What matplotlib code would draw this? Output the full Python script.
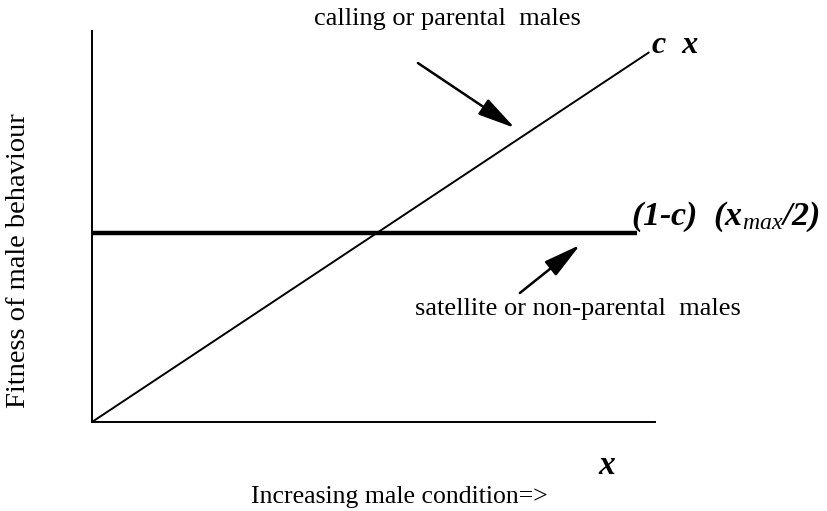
import numpy as np
import matplotlib
matplotlib.use("Agg")
import matplotlib.pyplot as plt

plt.rcParams['font.family'] = ['Liberation Serif', 'DejaVu Serif']
plt.rcParams['mathtext.fontset'] = 'custom'
plt.rcParams['mathtext.rm'] = 'Liberation Serif:bold:italic'
plt.rcParams['mathtext.it'] = 'Liberation Serif:italic'

# condition (x) and fitness of both tactics, scaled 0..1
x_call = [0.0, 0.99]
fit_call = [0.0, 0.946]          # c x
x_sat = [0.0, 0.968]
fit_sat = [0.483, 0.483]         # (1-c)(x_max/2)

fig = plt.figure(figsize=(8.27, 5.11), dpi=100)
ax = fig.add_axes([92 / 827, 89 / 511, 563 / 827, 391 / 511])

ax.plot(x_call, fit_call, color='black', lw=1.4, solid_capstyle='butt')
ax.plot(x_sat, fit_sat, color='black', lw=3.2, solid_capstyle='butt')

ax.set_xlim(0, 1)
ax.set_ylim(0, 1)
for s in ['top', 'right']:
  ax.spines[s].set_visible(False)
for s in ['left', 'bottom']:
  ax.spines[s].set_linewidth(1.4)
ax.set_xticks([])
ax.set_yticks([])

bi = dict(fontstyle='italic', fontweight='bold')

ax.text(0.995, 0.962, 'c  x', fontsize=23, ha='left', va='center', clip_on=False, **bi)
ax.text(0.957, 0.504, r'$\mathrm{(1\text{-}c)\ \ (x}_{\mathit{max}}\mathrm{/2)}$',
        fontsize=24.5, ha='left', va='baseline', clip_on=False)
ax.text(0.915, -0.11, 'x', fontsize=24, ha='center', va='center', clip_on=False, **bi)

# arrows pointing at the two lines
arr = dict(arrowstyle='-|>,head_length=1.15,head_width=0.28', color='black', lw=1.8,
           shrinkA=0, shrinkB=0, mutation_scale=20)
ax.annotate('', xy=(0.751, 0.752), xytext=(0.579, 0.918), arrowprops=arr,
            annotation_clip=False)
ax.annotate('', xy=(0.867, 0.453), xytext=(0.760, 0.330), arrowprops=arr,
            annotation_clip=False)
ax.text(0.631, 1.015, 'calling or parental  males', fontsize=19, ha='center',
        va='baseline', clip_on=False)
ax.text(0.863, 0.274, 'satellite or non-parental  males', fontsize=19, ha='center',
        va='baseline', clip_on=False)

fig.text(399 / 827, 1 - 497 / 511, 'Increasing male condition=>', fontsize=18.5,
         ha='center', va='center')
fig.text(19 / 827, 1 - 261 / 511, 'Fitness of male behaviour', fontsize=20.5,
         ha='center', va='center', rotation=90)

fig.savefig('out.png', dpi=100)
